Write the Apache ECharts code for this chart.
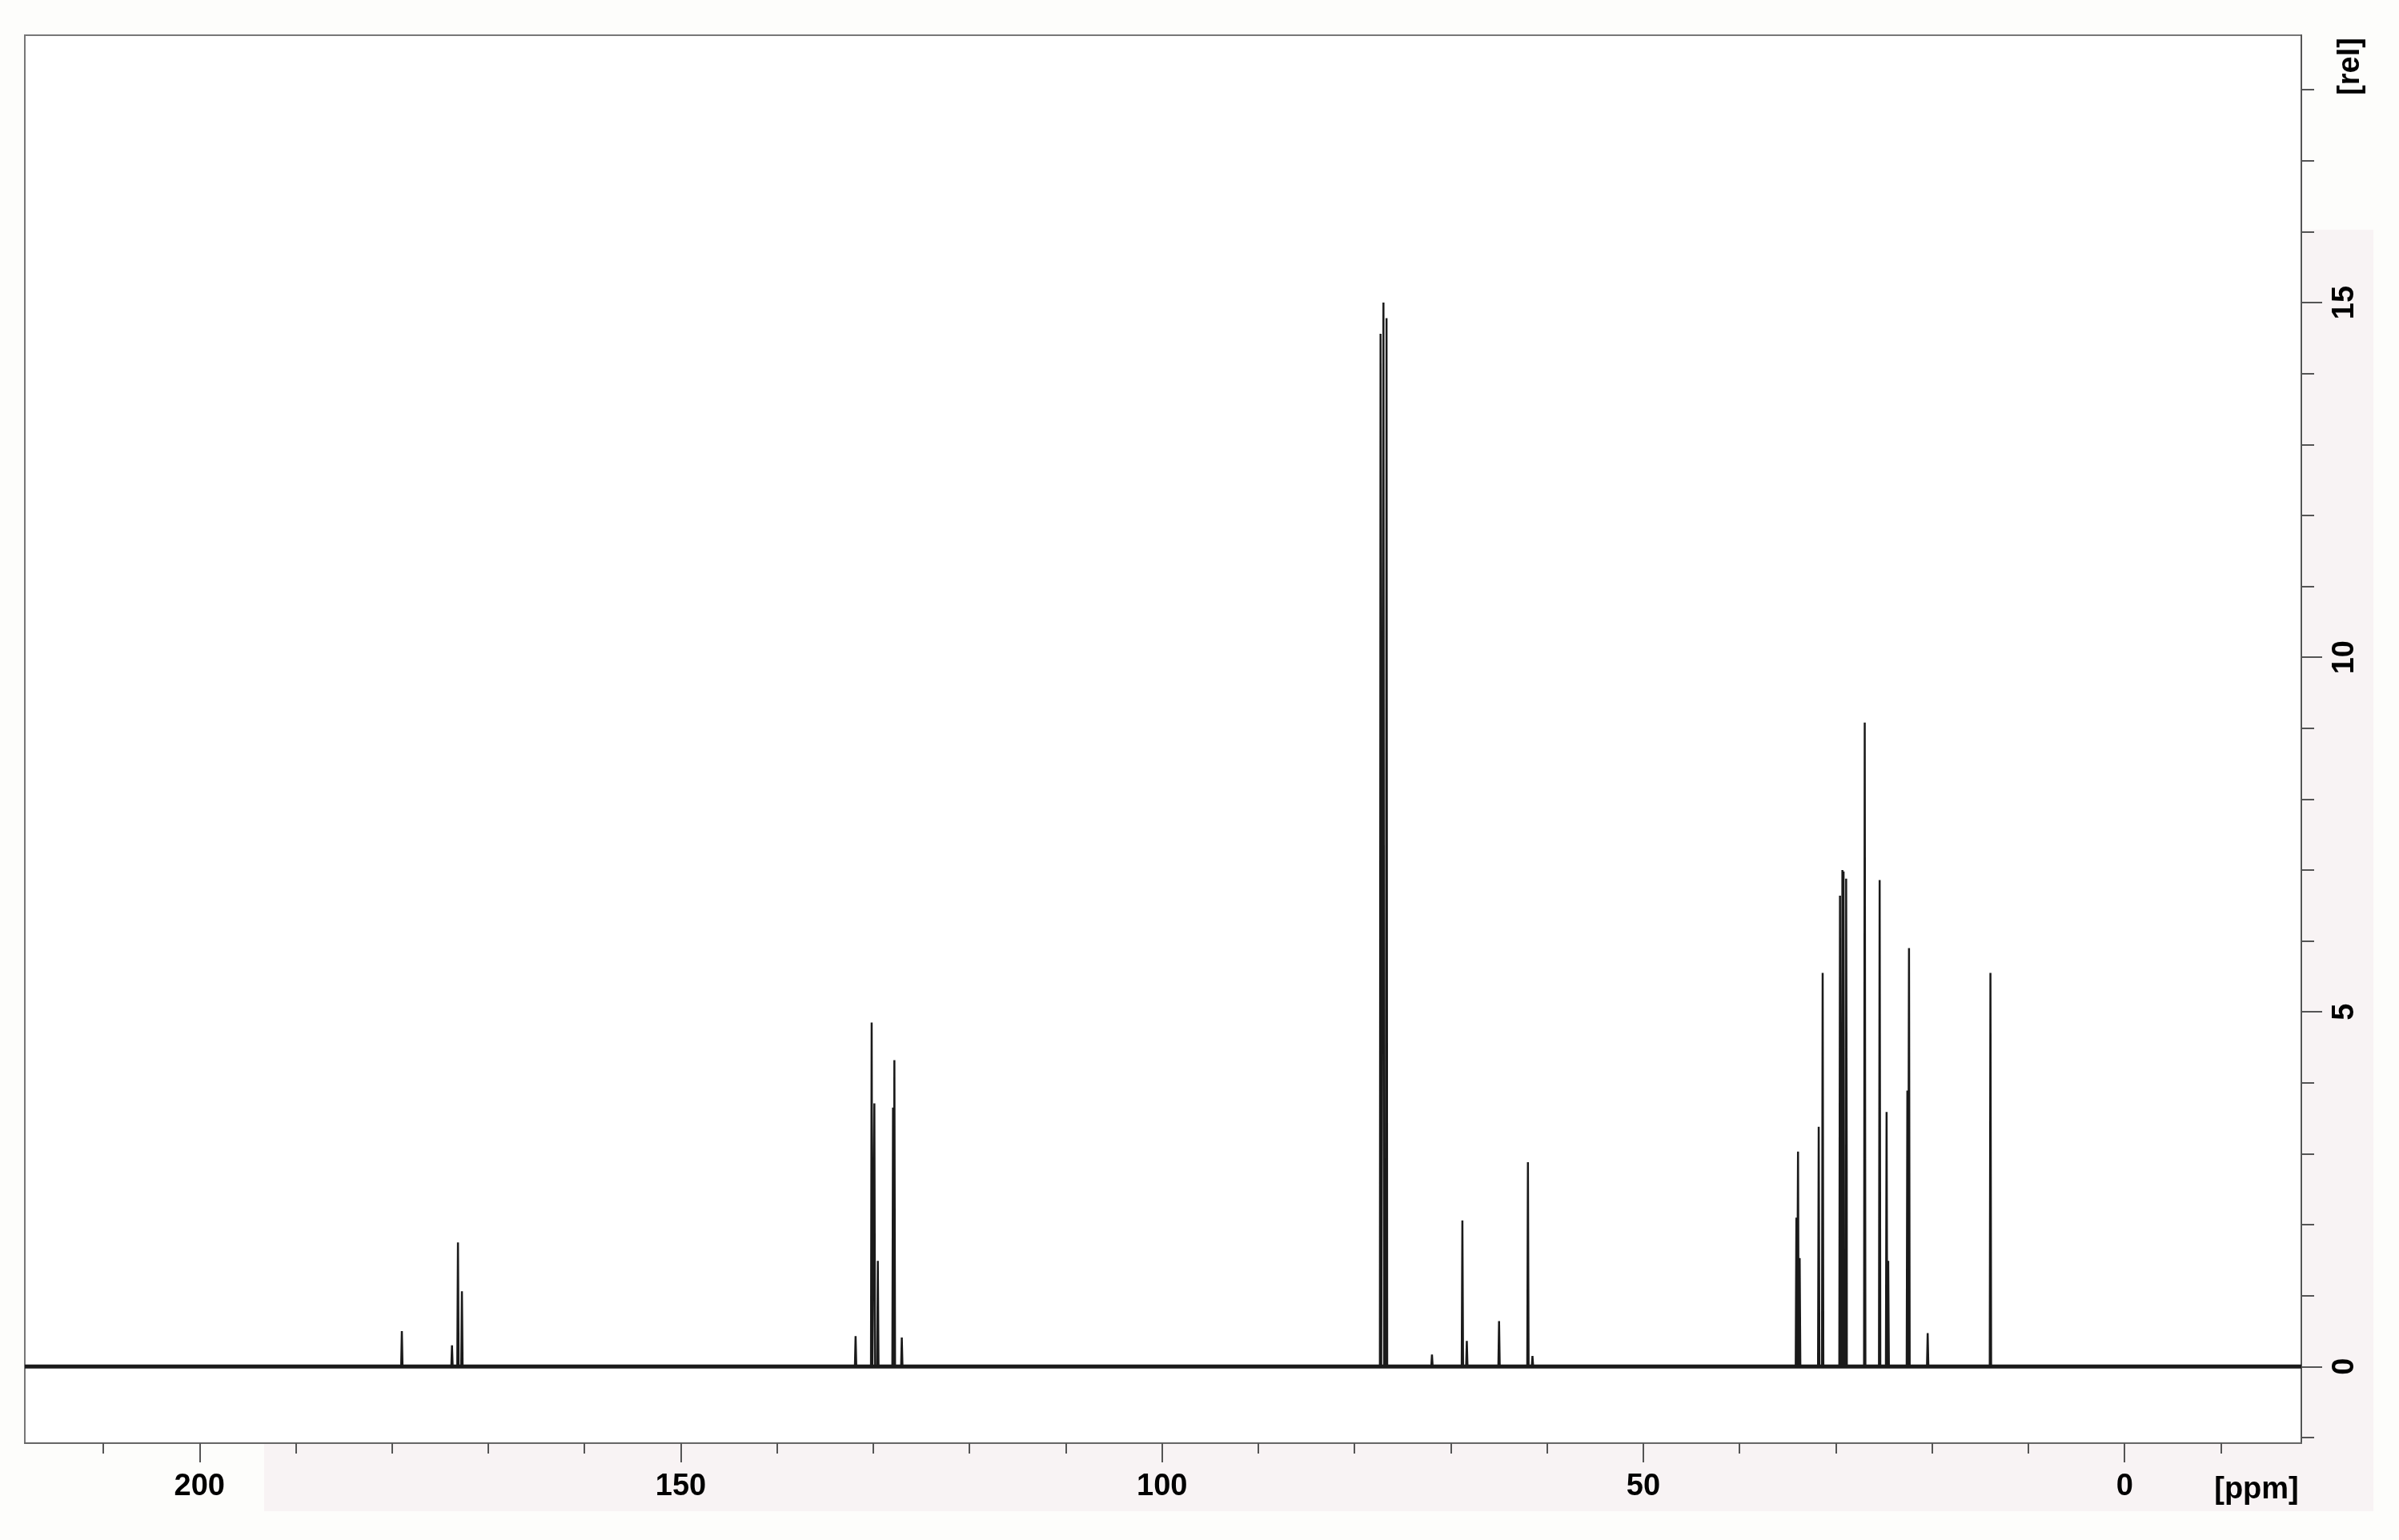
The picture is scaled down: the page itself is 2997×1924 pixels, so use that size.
<!DOCTYPE html>
<html>
<head>
<meta charset="utf-8">
<script src="https://cdn.jsdelivr.net/npm/echarts@6/dist/echarts.min.js"></script>
<style>
  html, body { margin: 0; padding: 0; background: #fdfdfb; }
  #nmr { width: 2997px; height: 1924px; }
</style>
</head>
<body>
<div id="nmr"></div>
<script>
// 13C 谱图数据：化学位移(ppm) 与 相对强度(rel)
var peakShift = [
    178.98, 173.77, 173.15, 172.74,
    131.84, 130.17, 129.89, 129.53, 127.95, 127.81, 127.04,
    77.30, 77.00, 76.68,
    71.96, 68.80, 68.34, 64.99, 61.99, 61.52,
    34.10, 33.93, 33.76, 31.78, 31.37, 29.57, 29.43, 29.32, 29.20, 28.93, 28.87,
    27.00, 25.45, 24.73, 24.56, 22.57, 22.40, 20.46, 13.94
];
var peakHeight = [
    0.50, 0.30, 1.75, 1.06,
    0.43, 4.85, 3.71, 1.49, 3.65, 4.32, 0.41,
    14.56, 15.00, 14.78,
    0.17, 2.06, 0.36, 0.64, 2.88, 0.15,
    2.10, 3.03, 1.53, 3.38, 5.55, 6.64, 4.32, 7.00, 6.98, 6.88, 2.78,
    9.08, 6.86, 3.59, 1.49, 3.89, 5.90, 0.47, 5.55
];

// 坐标轴范围与刻度
var ppmRange = [-18.36, 218.15];
var relRange = [-1.08, 18.77];
var ppmMajorTicks = [200, 150, 100, 50, 0];
var ppmMinorTicks = [210, 190, 180, 170, 160, 140, 130, 120, 110, 90, 80, 70, 60, 40, 30, 20, 10, -10];
var relMajorTicks = [0, 5, 10, 15];
var relMinorTicks = [-1, 1, 2, 3, 4, 6, 7, 8, 9, 11, 12, 13, 14, 16, 17, 18];

// 每个峰画成一根窄尖峰
var halfWidth = 0.07;
var spectrum = [];
for (var i = 0; i < peakShift.length; i++) {
    spectrum.push([peakShift[i] + halfWidth, 0]);
    spectrum.push([peakShift[i], peakHeight[i]]);
    spectrum.push([peakShift[i] - halfWidth, 0]);
}
spectrum.sort(function (a, b) { return b[0] - a[0]; });
var baseline = [[ppmRange[1], 0], [ppmRange[0], 0]];

var labelFont = {
    fontFamily: 'Liberation Sans, Arial, sans-serif',
    fontWeight: 'bold',
    fontSize: 38,
    color: '#000'
};

function xAxisOf(ticks, len, withLabel) {
    return {
        type: 'value',
        position: 'bottom',
        inverse: true,
        min: ppmRange[0],
        max: ppmRange[1],
        axisLine: { show: withLabel ? false : true, onZero: false, lineStyle: { color: '#666', width: 2 } },
        axisTick: { show: true, length: len, customValues: ticks, lineStyle: { color: '#555', width: 2 } },
        axisLabel: withLabel ? Object.assign({ show: true, margin: 36, customValues: ticks }, labelFont) : { show: false },
        splitLine: { show: false }
    };
}

function yAxisOf(ticks, len, withLabel) {
    return {
        type: 'value',
        position: 'right',
        min: relRange[0],
        max: relRange[1],
        axisLine: { show: withLabel ? false : true, onZero: false, lineStyle: { color: '#555', width: 2 } },
        axisTick: { show: true, length: len, customValues: ticks, lineStyle: { color: '#555', width: 2 } },
        axisLabel: withLabel ? Object.assign({ show: true, margin: 36, rotate: 90, customValues: ticks }, labelFont) : { show: false },
        splitLine: { show: false }
    };
}

var option = {
    backgroundColor: '#fdfdfb',
    animation: false,
    grid: {
        left: 31, right: 122, top: 44, bottom: 121,
        show: true,
        backgroundColor: '#ffffff',
        borderColor: '#777',
        borderWidth: 2,
        outerBoundsMode: 'none'
    },
    graphic: [
        { type: 'rect', z: -10, silent: true, shape: { x: 330, y: 1804, width: 2635, height: 84 }, style: { fill: '#f8f3f4' } },
        { type: 'rect', z: -10, silent: true, shape: { x: 2877, y: 287, width: 88, height: 1601 }, style: { fill: '#f8f3f4' } },
        { type: 'text', x: 2819, y: 1862, silent: true,
          style: { text: '[ppm]', font: 'bold 38px "Liberation Sans", Arial, sans-serif', fill: '#000', align: 'center', verticalAlign: 'middle' } },
        { type: 'text', x: 2937, y: 83, rotation: Math.PI / 2, silent: true,
          style: { text: '[rel]', font: 'bold 38px "Liberation Sans", Arial, sans-serif', fill: '#000', align: 'center', verticalAlign: 'middle' } }
    ],
    xAxis: [
        xAxisOf(ppmMinorTicks, 13, false),
        xAxisOf(ppmMajorTicks, 24, true)
    ],
    yAxis: [
        yAxisOf(relMinorTicks, 16, false),
        yAxisOf(relMajorTicks, 26, true)
    ],
    series: [
        {
            type: 'line',
            xAxisIndex: 0, yAxisIndex: 0,
            data: baseline,
            showSymbol: false,
            silent: true,
            lineStyle: { color: '#1a1a1a', width: 5 }
        },
        {
            type: 'line',
            xAxisIndex: 0, yAxisIndex: 0,
            data: spectrum,
            showSymbol: false,
            silent: true,
            lineStyle: { color: '#1a1a1a', width: 2.5 }
        }
    ]
};

var myChart = echarts.init(document.getElementById('nmr'));
myChart.setOption(option);
</script>
</body>
</html>
